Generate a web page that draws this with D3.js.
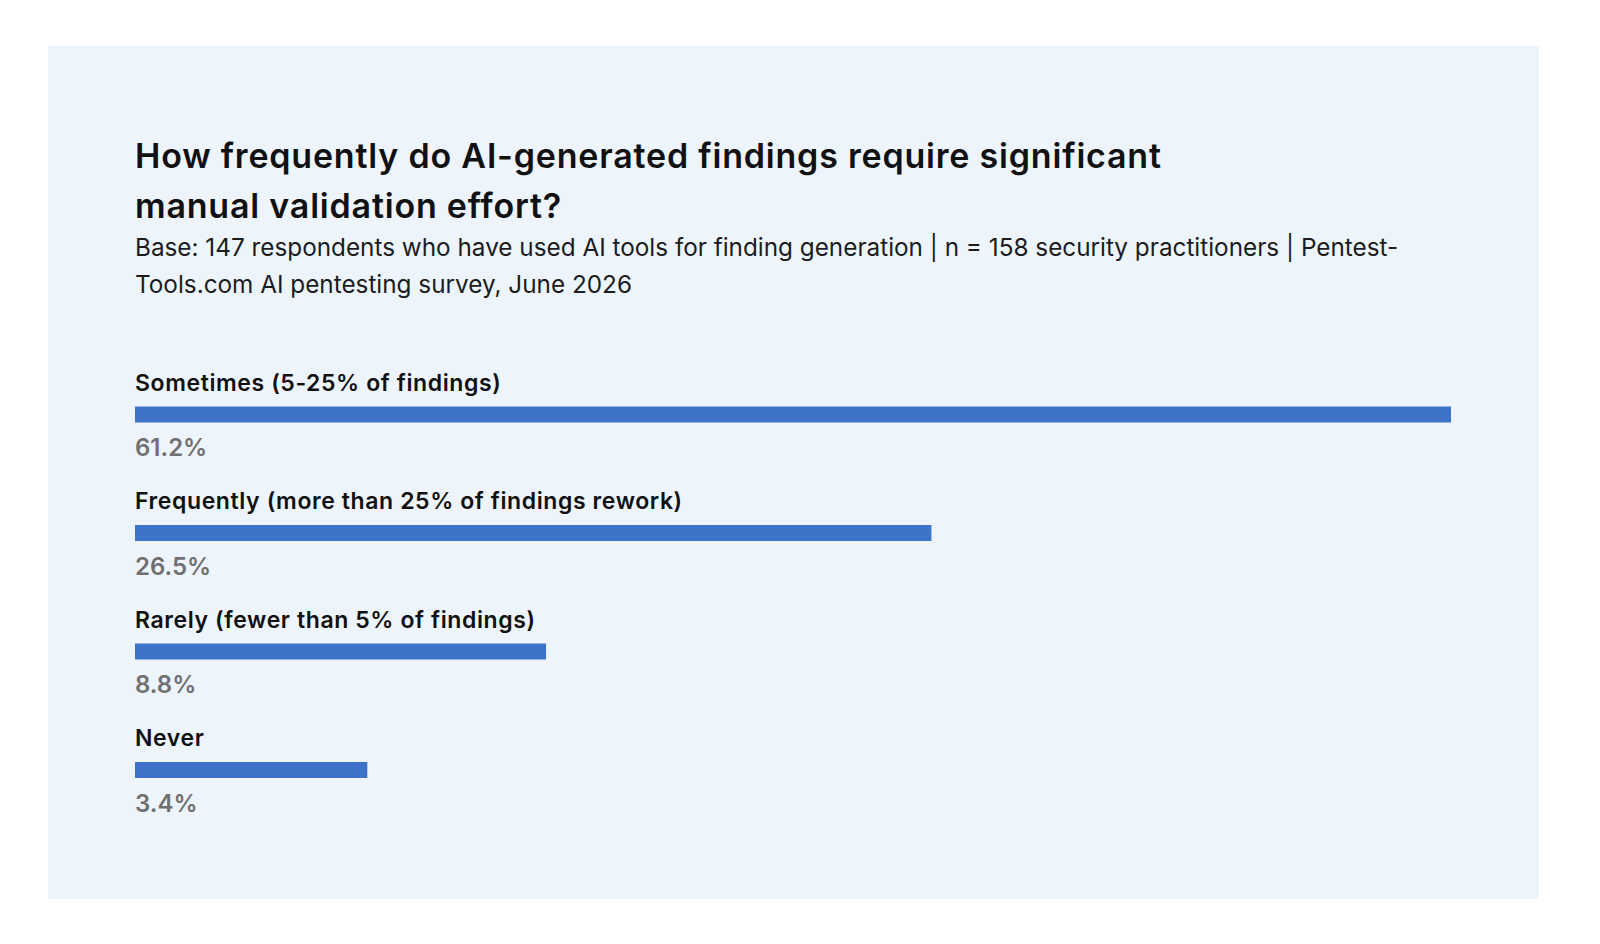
<!DOCTYPE html>
<html>
<head>
<meta charset="utf-8">
<script src="https://cdn.jsdelivr.net/npm/d3@7"></script>
<style>
  html, body { margin: 0; padding: 0; background: #ffffff; }
  svg { display: block; font-family: Inter, "Noto Sans", sans-serif; }
</style>
</head>
<body>
<svg id="chart" width="1600" height="944"></svg>
<script>
// chart data
const titleLines = [
  'How frequently do AI-generated findings require significant',
  'manual validation effort?'
]
const subtitleLines = [
  'Base: 147 respondents who have used AI tools for finding generation | n = 158 security practitioners | Pentest-',
  'Tools.com AI pentesting survey, June 2026'
]
const categories = [
  'Sometimes (5-25% of findings)',
  'Frequently (more than 25% of findings rework)',
  'Rarely (fewer than 5% of findings)',
  'Never'
]
const values = [61.2, 26.5, 8.8, 3.4]

const svg = d3.select('#chart')

// light blue card behind everything
svg.append('rect')
  .attr('x', 48).attr('y', 46)
  .attr('width', 1491).attr('height', 853)
  .attr('fill', '#edf4fc')

const left = 135

const title = svg.append('text')
  .attr('font-size', 34)
  .attr('font-weight', 600)
  .attr('letter-spacing', 0.8)
  .attr('fill', '#111111')
title.selectAll('tspan').data(titleLines).join('tspan')
  .attr('x', left)
  .attr('y', (d, i) => 168 + i * 50)
  .text(d => d)

const subtitle = svg.append('text')
  .attr('font-size', 24.3)
  .attr('fill', '#1c1c1c')
subtitle.selectAll('tspan').data(subtitleLines).join('tspan')
  .attr('x', left)
  .attr('y', (d, i) => 256 + i * 37)
  .text(d => d)

// bar lengths in the source grow less than linearly, a pow scale is the closest fit
const x = d3.scalePow().exponent(0.6)
  .domain([0, d3.max(values)])
  .range([left, 1451])

const y = d3.scalePoint()
  .domain(categories)
  .range([406.5, 762])

const rows = svg.append('g')
  .selectAll('g')
  .data(categories.map((c, i) => ({ name: c, value: values[i] })))
  .join('g')
  .attr('transform', d => 'translate(0,' + y(d.name) + ')')

rows.append('text')
  .attr('x', left)
  .attr('y', -16)
  .attr('font-size', 23)
  .attr('font-weight', 600)
  .attr('letter-spacing', 0.6)
  .attr('fill', '#111111')
  .text(d => d.name)

rows.append('rect')
  .attr('x', x(0))
  .attr('y', 0)
  .attr('width', d => x(d.value) - x(0))
  .attr('height', 16)
  .attr('fill', '#3d74ca')

rows.append('text')
  .attr('x', left)
  .attr('y', 49.5)
  .attr('font-size', 24)
  .attr('font-weight', 600)
  .attr('fill', '#707070')
  .text(d => d.value.toFixed(1) + '%')
</script>
</body>
</html>
